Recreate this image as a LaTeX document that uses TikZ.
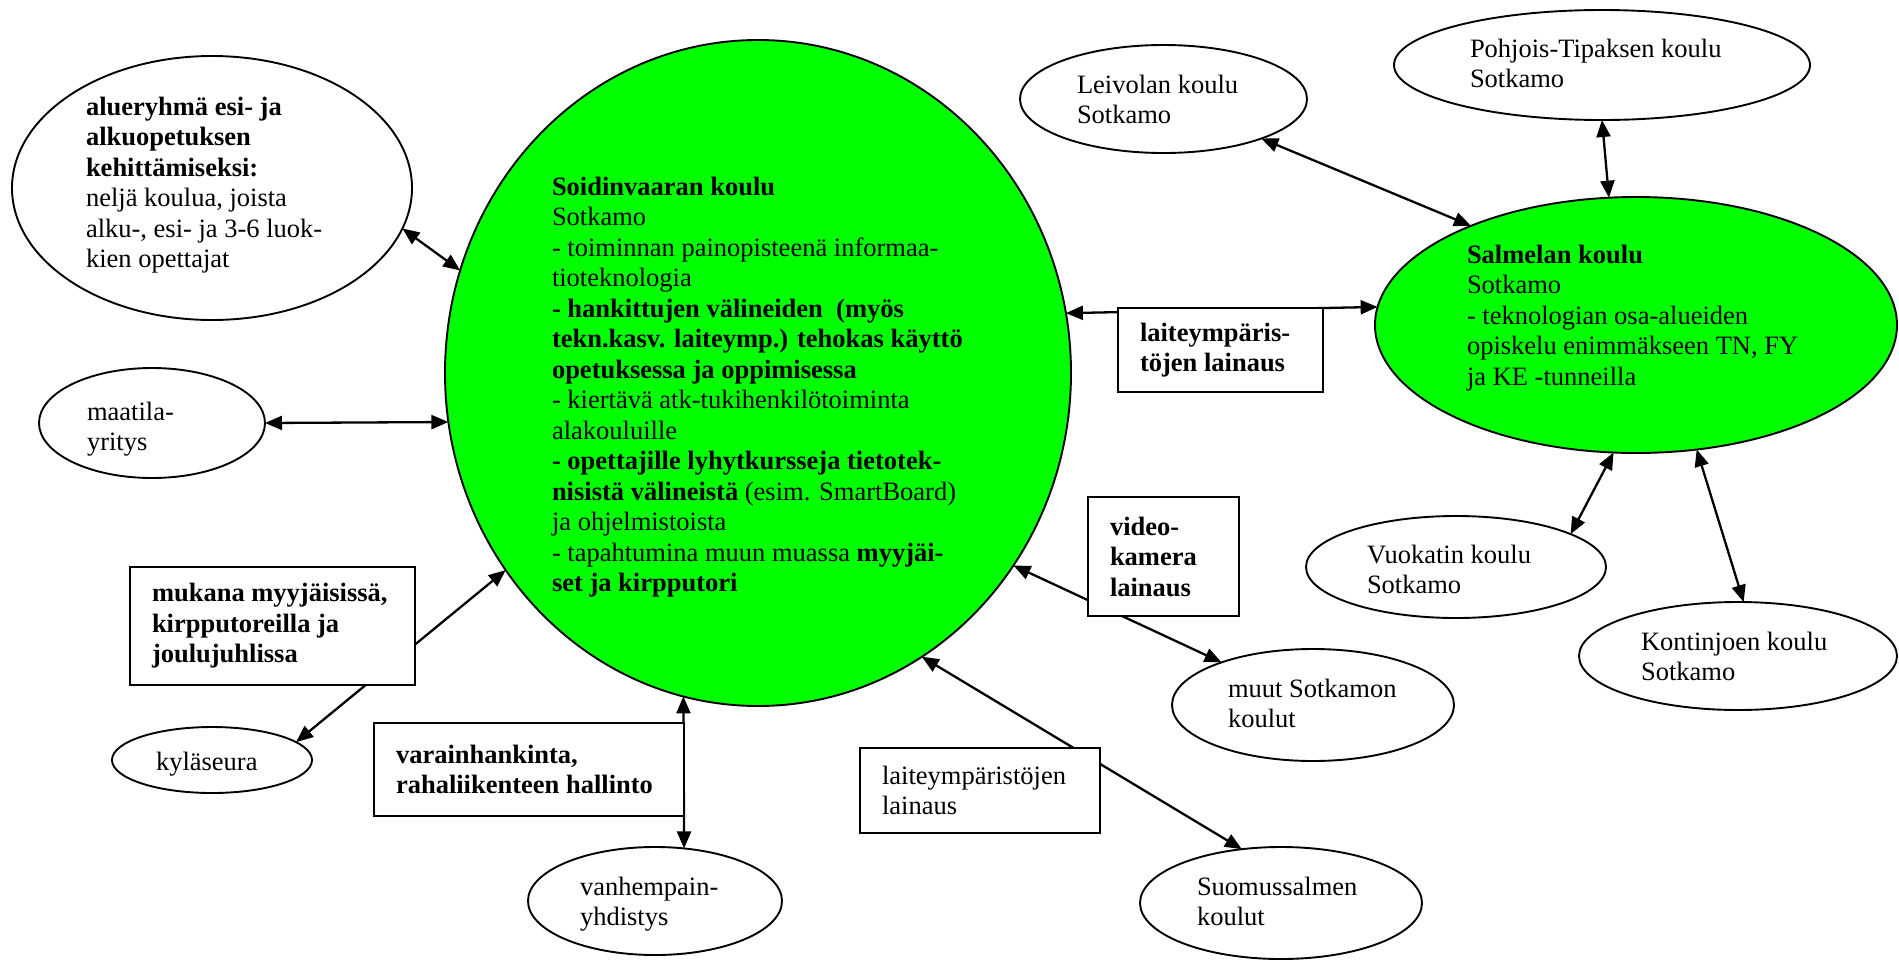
\documentclass[tikz,border=0pt]{standalone}
\usepackage{fontspec}
\setmainfont{Liberation Serif}
\usetikzlibrary{shapes.geometric,arrows.meta}
\definecolor{brightgreen}{HTML}{00FF00}
\begin{document}
\begin{tikzpicture}[x=1pt,y=-1pt,
  every node/.style={font=\fontsize{26.5}{30.5}\selectfont, inner sep=0pt, outer sep=0pt},
  ell/.style={draw, ellipse, line width=1.9pt, fill=white},
  grn/.style={fill=brightgreen},
  txt/.style={anchor=north west, align=left},
  box/.style={draw, rectangle, line width=2pt, fill=white, inner xsep=22pt, inner ysep=0pt, align=flush left},
  dbl/.style={line width=2.3pt, {Triangle[length=17pt,width=14pt]}-{Triangle[length=17pt,width=14pt]}}
]
\useasboundingbox (0,0) rectangle (1899,959);

% ellipses
\node[ell, minimum width=400pt, minimum height=264pt] (alu) at (212,188) {};
\node[ell, minimum width=226pt, minimum height=110pt] (maat) at (152,423) {};
\node[ell, minimum width=200pt, minimum height=66pt] (kyl) at (212,760) {};
\node[ell, minimum width=254pt, minimum height=108pt] (vanh) at (655,901) {};
\node[ell, minimum width=282pt, minimum height=112pt] (suom) at (1281,903) {};
\node[ell, minimum width=282pt, minimum height=112pt] (muut) at (1313,705) {};
\node[ell, grn, minimum width=522pt, minimum height=256pt] (salm) at (1636,325) {};
\node[ell, minimum width=287pt, minimum height=108pt] (leiv) at (1163.5,99) {};
\node[ell, minimum width=416pt, minimum height=110pt] (pohj) at (1602,65) {};
\node[ell, minimum width=300pt, minimum height=102pt] (vuok) at (1456,567) {};
\node[ell, minimum width=318pt, minimum height=108pt] (kont) at (1738,656) {};
\node[ell, grn, minimum width=626pt, minimum height=666pt] (soid) at (758,373) {};

% connectors
\draw[dbl] (alu.348.2) -- (soid.161);
\draw[dbl] (maat.0) -- (soid.189);
\draw[dbl] (kyl.12) -- (soid.218.1);
\draw[dbl] (soid.257.1) -- (vanh.61.3);
\draw[dbl] (soid.300) -- (suom.126.7);
\draw[dbl] (soid.323.8) -- (muut.155.7);
\draw[dbl] (soid.11.95) -- (salm.176.2);
\draw[dbl] (leiv.338.6) -- (salm.149.5);
\draw[dbl] (pohj.270) -- (salm.102.8);
\draw[dbl] (salm.260.7) -- (vuok.16.7);
\draw[dbl] (salm.296) -- (kont.84.7);

% boxes
\node[box, text width=241pt, minimum height=118pt] (mukana) at (272.5,626)
  {\textbf{mukana~myyjäisissä,}\\\textbf{kirpputoreilla~ja}\\\textbf{joulujuhlissa}};
\node[box, text width=266pt, minimum height=93pt] (varain) at (529,769.5)
  {\textbf{varainhankinta,}\\\textbf{rahaliikenteen~hallinto}};
\node[box, text width=196pt, minimum height=85pt] (laiteN) at (980,790.5)
  {laiteympäristöjen\\lainaus};
\node[box, text width=107pt, minimum height=119pt] (video) at (1163.5,556.5)
  {\textbf{video-}\\\textbf{kamera}\\\textbf{lainaus}};
\node[box, text width=161pt, minimum height=84pt] (laiteB) at (1220.5,350)
  {\textbf{laiteympäris-}\\\textbf{töjen~lainaus}};

% texts in ellipses
\node[txt] (aluT) at (86,97)
  {\textbf{alueryhmä esi- ja}\\\textbf{alkuopetuksen}\\\textbf{kehittämiseksi:}\\neljä koulua, joista\\alku-, esi- ja 3-6 luok-\\kien opettajat};
\node[txt] (maatT) at (87,402) {maatila-\\yritys};
\node[txt] (kylT) at (156,752) {kyläseura};
\node[txt] (vanhT) at (580,877) {vanhempain-\\yhdistys};
\node[txt] (suomT) at (1197,877) {Suomussalmen\\koulut};
\node[txt] (muutT) at (1228,679) {muut Sotkamon\\koulut};
\node[txt] (salmT) at (1467,245)
  {\textbf{Salmelan koulu}\\Sotkamo\\- teknologian osa-alueiden\\opiskelu enimmäkseen TN, FY\\ja KE -tunneilla};
\node[txt] (leivT) at (1077,75) {Leivolan koulu\\Sotkamo};
\node[txt] (pohjT) at (1470,39) {Pohjois-Tipaksen koulu\\Sotkamo};
\node[txt] (vuokT) at (1367,545) {Vuokatin koulu\\Sotkamo};
\node[txt] (kontT) at (1641,632) {Kontinjoen koulu\\Sotkamo};
\node[txt] (soidT) at (552,177)
  {\textbf{Soidinvaaran koulu}\\
   Sotkamo\\
   - toiminnan painopisteenä informaa-\\
   tioteknologia\\
   \textbf{- hankittujen välineiden\ \ (myös}\\
   \textbf{tekn.kasv. laiteymp.) tehokas käyttö}\\
   \textbf{opetuksessa ja oppimisessa}\\
   - kiertävä atk-tukihenkilötoiminta\\
   alakouluille\\
   \textbf{- opettajille lyhytkursseja tietotek-}\\
   \textbf{nisistä välineistä} (esim. SmartBoard)\\
   ja ohjelmistoista\\
   - tapahtumina muun muassa \textbf{myyjäi-}\\
   \textbf{set ja kirpputori}};
\end{tikzpicture}
\end{document}
